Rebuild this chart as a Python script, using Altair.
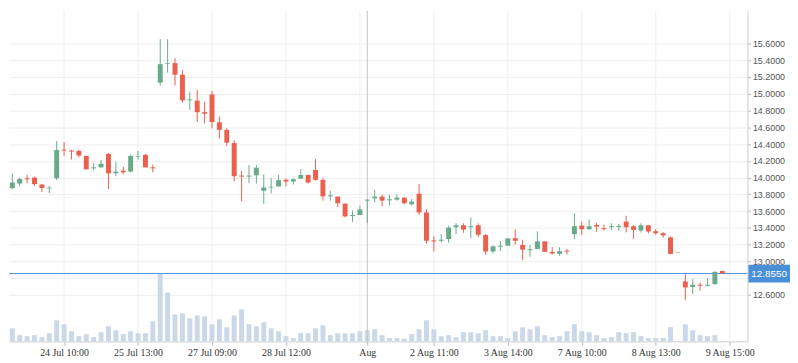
import altair as alt
import pandas as pd

# ---- data ----
open_ = [13.875, 13.929, 13.992, 14.000, 13.918, 13.871, 13.992, 14.333, 14.322, 14.318,
         14.259, 14.110, 14.122, 14.282, 14.051, 14.082, 14.071, 14.251, 14.271, 14.122,
         15.133, 15.357, 15.365, 15.227, 14.922, 14.918, 14.780, 14.992, 14.659, 14.569,
         14.412, 14.024, 14.012, 14.027, 13.843, 13.882, 13.894, 13.973, 13.953, 13.988,
         14.031, 14.090, 13.973, 13.776, 13.773, 13.690, 13.541, 13.553, 13.725, 13.753,
         13.773, 13.729, 13.737, 13.761, 13.682, 13.808, 13.584, 13.251, 13.247, 13.267,
         13.408, 13.431, 13.408, 13.431, 13.314, 13.118, 13.176, 13.188, 13.278, 13.196,
         13.133, 13.149, 13.239, 13.114, 13.090, 13.129, 13.325, 13.427, 13.384, 13.435,
         13.396, 13.408, 13.412, 13.475, 13.420, 13.369, 13.431, 13.361, 13.337, 13.286,
         13.112, 12.761, 12.694, 12.722, 12.710, 12.729, 12.886]
high = [14.047, 14.000, 14.031, 14.012, 13.918, 13.902, 14.435, 14.424, 14.329, 14.333,
        14.259, 14.176, 14.212, 14.294, 14.188, 14.129, 14.275, 14.318, 14.282, 14.153,
        15.651, 15.651, 15.424, 15.282, 15.024, 15.047, 14.906, 15.035, 14.729, 14.588,
        14.447, 14.082, 14.149, 14.149, 14.039, 13.992, 14.031, 13.992, 13.992, 14.098,
        14.031, 14.220, 13.992, 13.843, 13.773, 13.690, 13.608, 13.667, 13.737, 13.855,
        13.796, 13.796, 13.796, 13.761, 13.745, 13.925, 13.627, 13.302, 13.325, 13.427,
        13.455, 13.455, 13.525, 13.455, 13.325, 13.192, 13.243, 13.275, 13.384, 13.255,
        13.200, 13.357, 13.239, 13.173, 13.169, 13.149, 13.573, 13.475, 13.498, 13.463,
        13.439, 13.455, 13.447, 13.545, 13.435, 13.455, 13.431, 13.384, 13.349, 13.298,
        13.112, 12.847, 12.788, 12.749, 12.800, 12.882, 12.886]
low = [13.863, 13.898, 13.933, 13.898, 13.827, 13.816, 13.969, 14.259, 14.216, 14.239,
       14.098, 14.086, 14.122, 13.863, 14.016, 14.039, 14.063, 14.216, 14.122, 14.063,
       15.098, 15.251, 15.098, 14.894, 14.808, 14.663, 14.647, 14.588, 14.463, 14.376,
       13.953, 13.718, 13.933, 13.929, 13.686, 13.812, 13.894, 13.894, 13.918, 13.988,
       13.929, 13.965, 13.725, 13.725, 13.647, 13.525, 13.471, 13.553, 13.459, 13.702,
       13.659, 13.667, 13.725, 13.682, 13.667, 13.553, 13.212, 13.118, 13.224, 13.224,
       13.325, 13.341, 13.278, 13.290, 13.078, 13.094, 13.125, 13.188, 13.200, 13.016,
       13.055, 13.149, 13.114, 13.082, 13.067, 13.082, 13.267, 13.318, 13.376, 13.353,
       13.369, 13.376, 13.365, 13.345, 13.267, 13.345, 13.333, 13.318, 13.282, 13.082,
       13.108, 12.537, 12.612, 12.651, 12.702, 12.722, 12.855]
close = [13.941, 13.984, 13.980, 13.922, 13.875, 13.878, 14.329, 14.322, 14.310, 14.263,
         14.098, 14.122, 14.165, 14.051, 14.071, 14.063, 14.259, 14.259, 14.122, 14.110,
         15.353, 15.365, 15.227, 14.922, 14.933, 14.780, 14.761, 14.663, 14.569, 14.416,
         14.016, 14.012, 14.024, 14.118, 13.882, 13.890, 13.969, 13.953, 13.980, 14.031,
         13.941, 13.973, 13.776, 13.788, 13.694, 13.537, 13.553, 13.620, 13.737, 13.773,
         13.725, 13.741, 13.761, 13.694, 13.714, 13.584, 13.247, 13.239, 13.259, 13.404,
         13.431, 13.380, 13.420, 13.318, 13.118, 13.180, 13.188, 13.275, 13.247, 13.141,
         13.145, 13.239, 13.114, 13.094, 13.122, 13.118, 13.420, 13.384, 13.420, 13.416,
         13.384, 13.420, 13.424, 13.408, 13.376, 13.431, 13.357, 13.337, 13.310, 13.090,
         13.108, 12.690, 12.722, 12.710, 12.722, 12.875, 12.855]
volume = [133, 63, 53, 63, 43, 83, 213, 173, 103, 53,
          73, 43, 93, 153, 113, 73, 103, 83, 83, 203,
          680, 493, 273, 283, 233, 263, 253, 173, 223, 143,
          263, 323, 173, 153, 193, 133, 103, 53, 33, 83,
          83, 133, 163, 63, 83, 83, 83, 103, 113, 123,
          63, 33, 33, 27, 73, 123, 213, 123, 53, 63,
          43, 93, 93, 83, 113, 53, 53, 33, 103, 143,
          123, 153, 63, 43, 53, 103, 173, 103, 93, 63,
          33, 43, 93, 83, 93, 53, 33, 33, 33, 143,
          3, 173, 113, 63, 53, 63, 5]

tick_idx = [7, 17, 27, 37, 48, 57, 67, 77, 87, 97]
tick_labels = ["24 Jul 10:00", "25 Jul 13:00", "27 Jul 09:00", "28 Jul 12:00", "Aug",
               "2 Aug 11:00", "3 Aug 14:00", "7 Aug 10:00", "8 Aug 13:00", "9 Aug 15:00"]
grid_idx = [7, 17, 27, 37, 47, 57, 67, 77, 87, 97]
price_ticks = [12.6, 12.8, 13.0, 13.2, 13.4, 13.6, 13.8, 14.0, 14.2, 14.4,
               14.6, 14.8, 15.0, 15.2, 15.4, 15.6]
last_price = 12.855
cursor_idx = 48

# ---- tables ----
n = len(open_)
df = pd.DataFrame({"i": list(range(n)), "open": open_, "high": high,
                   "low": low, "close": close, "volume": volume})
df["dir"] = ["up" if c >= o else "down" for o, c in zip(open_, close)]
grid_df = pd.DataFrame({"i": grid_idx})
cursor_df = pd.DataFrame({"i": [cursor_idx]})
last_df = pd.DataFrame({"p": [last_price]})

W, H = 746, 334
GREEN, RED = "#69aa8b", "#e9604f"
BLUE = "#4a90d9"

xs = alt.Scale(domain=[-0.45, 99.4], nice=False, zero=False, padding=0)
ys = alt.Scale(domain=[12.0463, 15.9896], nice=False, zero=False, padding=0)
vs = alt.Scale(domain=[0, 3340], nice=False, zero=True, padding=0)
cs = alt.Scale(domain=["up", "down"], range=[GREEN, RED])

expr = ""
for v, lab in zip(tick_idx, tick_labels):
    expr += f"datum.value == {v} ? '{lab}' : "
expr += "''"

x_axis = alt.Axis(values=tick_idx, labelExpr=expr, grid=False, domainColor="#cccccc",
                  tickColor="#bbbbbb", tickSize=4, labelFont="Liberation Serif",
                  labelFontSize=10, labelColor="#333333", labelPadding=2, title=None,
                  labelFlush=False, labelOverlap=False, zindex=0)
y_axis = alt.Axis(orient="right", values=price_ticks, format=".4f", grid=True,
                  gridColor="#eeeeee", domainColor="#cccccc", tickColor="#bbbbbb",
                  tickSize=3, labelFont="Liberation Sans", labelFontSize=9,
                  labelColor="#555555", labelPadding=2, title=None, zindex=0)

X = alt.X("i:Q", scale=xs, axis=x_axis)

vgrid = alt.Chart(grid_df).mark_rule(color="#eeeeee", strokeWidth=1).encode(
    x=X, y=alt.value(0), y2=alt.value(H))

vol = alt.Chart(df).mark_bar(width=5, color="#cbd8ea").encode(
    x=X, y=alt.Y("volume:Q", scale=vs, axis=None))

cursor = alt.Chart(cursor_df).mark_rule(color="#c4c4c4", strokeWidth=1).encode(
    x=X, y=alt.value(0), y2=alt.value(H + 3))

pline = alt.Chart(last_df).mark_rule(color=BLUE, strokeWidth=1).encode(
    y=alt.Y("p:Q", scale=ys, axis=None))

wick = alt.Chart(df).mark_rule(strokeWidth=1).encode(
    x=X,
    y=alt.Y("low:Q", scale=ys, axis=y_axis),
    y2="high:Q",
    color=alt.Color("dir:N", scale=cs, legend=None))

body = alt.Chart(df).mark_bar(width=5).encode(
    x=X,
    y=alt.Y("open:Q", scale=ys, axis=None),
    y2="close:Q",
    color=alt.Color("dir:N", scale=cs, legend=None))

box = alt.Chart(last_df).mark_point(
    shape="M-1,-0.43H1V0.43H-1Z", filled=True, size=1764, opacity=1, color=BLUE,
    strokeWidth=0).encode(
    x=alt.value(768),
    y=alt.Y("p:Q", scale=ys, axis=None))

box_text = alt.Chart(last_df).mark_text(
    color="white", fontSize=10, font="Liberation Sans", align="center",
    baseline="middle").encode(
    x=alt.value(768),
    y=alt.Y("p:Q", scale=ys, axis=None),
    text=alt.Text("p:Q", format=".4f"))

chart = alt.layer(vgrid, vol, cursor, pline, wick, body, box, box_text).resolve_scale(
    y="independent"
).properties(width=W, height=H, padding=0).configure_view(stroke=None)

chart.save("out.html", embed_options={"renderer": "svg", "actions": False})
